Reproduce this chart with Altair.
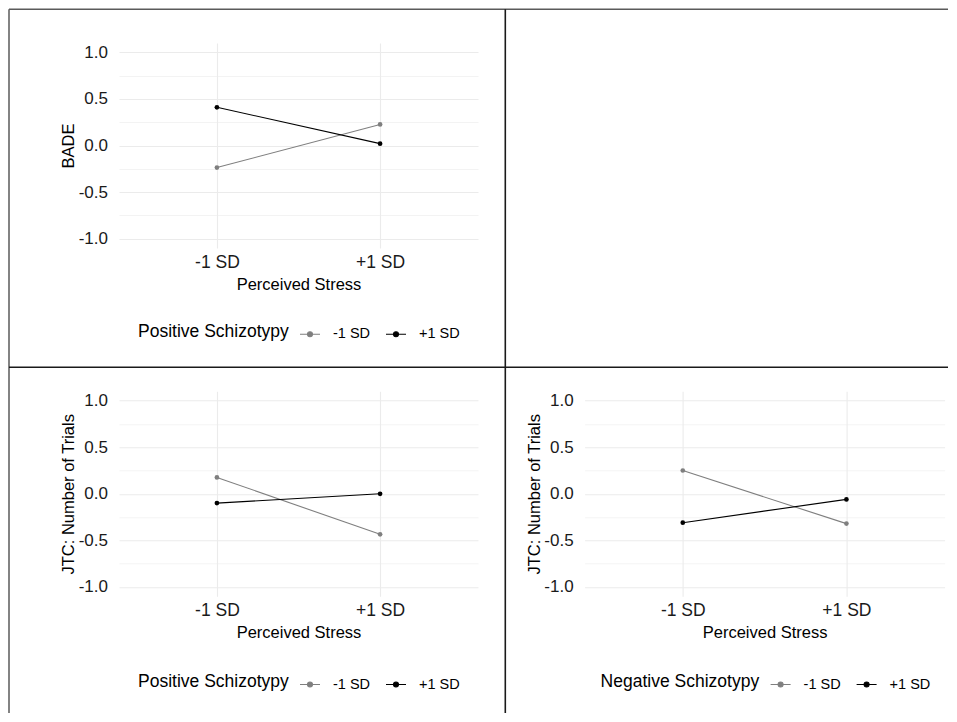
import altair as alt
import pandas as pd

# ---- data ----
stress = ["-1 SD", "+1 SD"]          # x categories (Perceived Stress)
groups = ["-1 SD", "+1 SD"]          # moderator levels (legend)
colors = ["#7f7f7f", "#000000"]

bade_pos_low = [-0.237, 0.226]
bade_pos_high = [0.41, 0.02]
jtc_pos_low = [0.176, -0.435]
jtc_pos_high = [-0.10, 0.0]
jtc_neg_low = [0.25, -0.32]
jtc_neg_high = [-0.31, -0.06]

y_ticks = [-1.0, -0.75, -0.5, -0.25, 0.0, 0.25, 0.5, 0.75, 1.0]

FONT = "Liberation Sans"


def make_df(low, high):
    rows = []
    for g, vals in zip(groups, [low, high]):
        for s, v in zip(stress, vals):
            rows.append({"stress": s, "group": g, "value": v})
    return pd.DataFrame(rows)


minor_test = "abs(datum.value*2 - round(datum.value*2)) > 0.01"
label_expr = (
    f"{minor_test} ? '' : replace(format(datum.value, '.1f'), '\u2212', '-')"
)
sym_path = "M-1,0H1M-0.25,0A0.25,0.25 0 1,0 0.25,0A0.25,0.25 0 1,0 -0.25,0Z"

W, H = 359, 205


def panel(df, ytitle, legtitle, lx, ly):
    legend = alt.Legend(
        title=legtitle,
        orient="none",
        legendX=lx,
        legendY=ly,
        direction="horizontal",
        titleOrient="left",
        titleFontSize=17.5,
        titleFontWeight="normal",
        titleColor="#000000",
        titleFont=FONT,
        titlePadding=10,
        titleBaseline="middle",
        titleAnchor="middle",
        labelFontSize=14.5,
        labelFont=FONT,
        labelColor="#000000",
        labelOffset=12,
        columnPadding=12,
        symbolType=sym_path,
        symbolSize=400,
        symbolStrokeWidth=1.1,
        symbolOpacity=1,
    )
    base = alt.Chart(df).encode(
        x=alt.X(
            "stress:N",
            sort=stress,
            scale=alt.Scale(type="point", padding=0.6),
            axis=alt.Axis(
                title="Perceived Stress",
                labelAngle=0,
                grid=True,
                gridColor="#ebebeb",
                gridWidth=1.1,
                domain=False,
                ticks=False,
                tickSize=0,
                labelPadding=5,
                labelFontSize=17.5,
                labelFont=FONT,
                labelColor="#1a1a1a",
                titleFontSize=16.5,
                titleFont=FONT,
                titleFontWeight="normal",
                titleColor="#000000",
                titlePadding=6,
            ),
        ),
        y=alt.Y(
            "value:Q",
            scale=alt.Scale(domain=[-1.1, 1.1], nice=False, zero=False),
            axis=alt.Axis(
                title=ytitle,
                values=y_ticks,
                grid=True,
                gridColor="#ebebeb",
                gridWidth={"condition": {"test": minor_test, "value": 0.6}, "value": 1.1},
                domain=False,
                ticks=False,
                tickSize=0,
                labelPadding=11.5,
                labelFontSize=17,
                labelFont=FONT,
                labelColor="#1a1a1a",
                labelExpr=label_expr,
                labelOverlap=False,
                titleFontSize=16.5,
                titleFont=FONT,
                titleFontWeight="normal",
                titleColor="#000000",
                titlePadding=1.5,
            ),
        ),
        color=alt.Color(
            "group:N",
            sort=groups,
            scale=alt.Scale(domain=groups, range=colors),
            legend=legend,
        ),
    )
    lines = base.mark_line(strokeWidth=1.1)
    pts = base.mark_point(filled=True, size=22, opacity=1)
    return lines, pts


def rule(x, x2, y, y2, color, width):
    return alt.Chart(pd.DataFrame({"k": [0]})).mark_rule(
        color=color, strokeWidth=width
    ).encode(
        x=alt.value(x), x2=alt.value(x2), y=alt.value(y), y2=alt.value(y2)
    )


l1, p1 = panel(make_df(bade_pos_low, bade_pos_high), "BADE", "Positive Schizotypy", 19, 280)
l2, p2 = panel(make_df(jtc_pos_low, jtc_pos_high), "JTC: Number of Trials", "Positive Schizotypy", 19, 282)
l3, p3 = panel(make_df(jtc_neg_low, jtc_neg_high), "JTC: Number of Trials", "Negative Schizotypy", 16, 282)

borders = [
    rule(-110, -110, -33.7, 670, "#5a5a5a", 1.5),      # left outer border
    rule(-110, 829, -33.7, -33.7, "#5a5a5a", 1.5),     # top outer border
    rule(386.3, 386.3, -33.7, 670, "#1a1a1a", 1.6),    # middle vertical
    rule(-110, 829, 324.3, 324.3, "#1a1a1a", 1.6),     # middle horizontal
]

c1 = alt.layer(l1, p1, *borders).properties(width=W, height=H)
c2 = alt.layer(l2, p2).properties(width=W, height=H)
c3 = alt.layer(l3, p3).properties(width=W + 1, height=H)

bottom = alt.hconcat(c2, c3, spacing=106.6, bounds="flush").resolve_scale(
    color="independent"
).resolve_legend(color="independent")

chart = (
    alt.vconcat(c1, bottom, spacing=143.3, bounds="flush")
    .resolve_scale(color="independent")
    .resolve_legend(color="independent")
    .properties(padding=0, background="white")
    .configure(font=FONT)
    .configure_view(strokeWidth=0, stroke="transparent")
)

chart.save("out.html", embed_options={"renderer": "svg", "actions": False})
